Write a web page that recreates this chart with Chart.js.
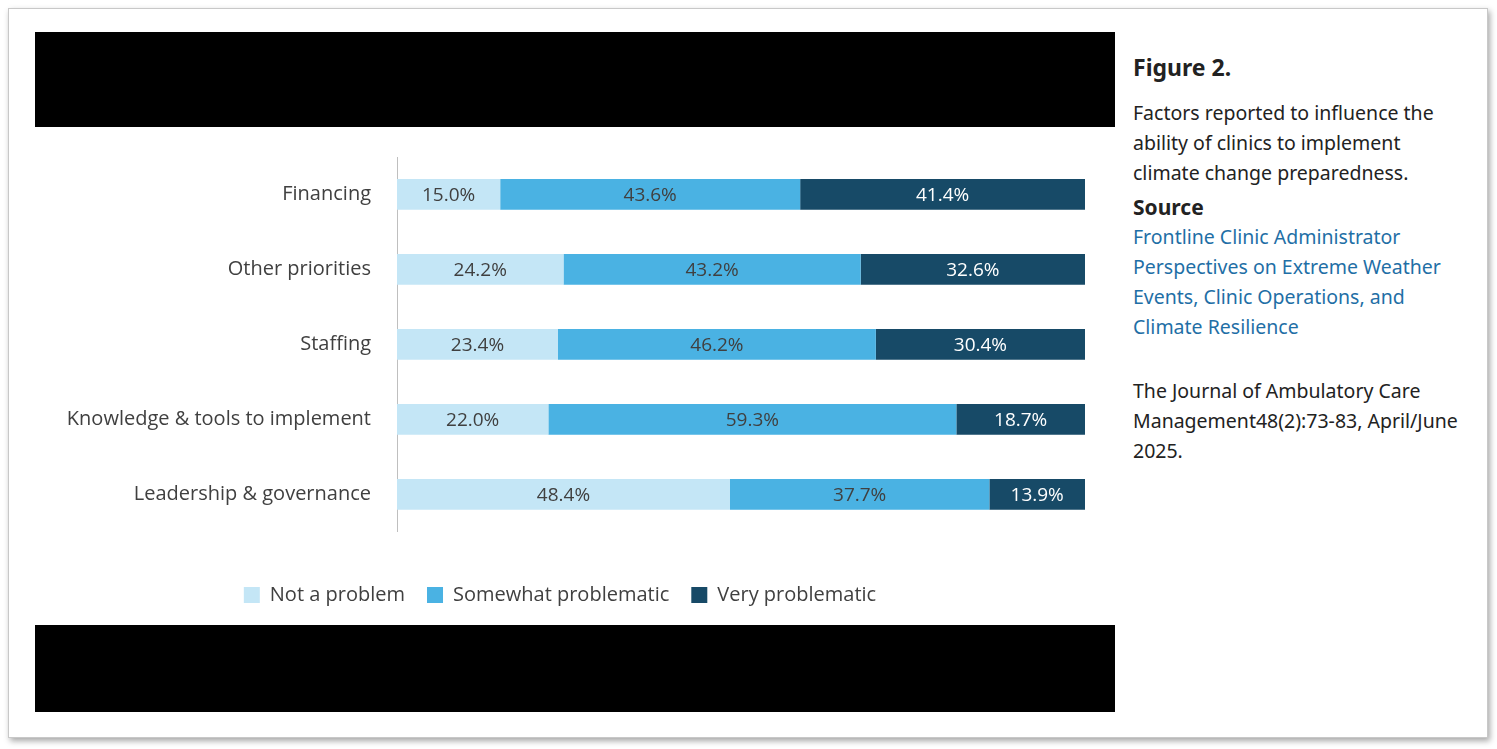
<!DOCTYPE html>
<html>
<head>
<meta charset="utf-8">
<script src="https://cdn.jsdelivr.net/npm/chart.js@4"></script>
<style>
  body { margin: 0; background: #fff; width: 1497px; height: 749px; position: relative; font-family: "Noto Sans", sans-serif; }
  #card { position: absolute; left: 8px; top: 8px; width: 1478px; height: 728px; border: 1px solid #c8c8c8; box-shadow: 2px 3px 6px rgba(0,0,0,0.35); background: #fff; }
  #black { position: absolute; left: 35px; top: 32px; width: 1080px; height: 680px; background: #000; }
  #chartBox { position: absolute; left: 35px; top: 127px; width: 1080px; height: 498px; background: #fff; }
  #side { position: absolute; left: 1133px; top: 52px; width: 325px; color: #222; font-size: 19.5px; line-height: 30px; }
  #side h2 { margin: 0 0 16px 0; font-size: 23px; font-weight: bold; }
  #side h3 { margin: 4px 0 0 0; font-size: 21px; font-weight: bold; }
  #side .link { color: #1f6fa6; }
  #side p { margin: 0; }
</style>
</head>
<body>
<div id="card"></div>
<div id="black"></div>
<div id="chartBox"><canvas id="c"></canvas></div>
<div id="side">
  <h2>Figure 2.</h2>
  <p>Factors reported to influence the ability of clinics to implement climate change preparedness.</p>
  <h3>Source</h3>
  <p class="link">Frontline Clinic Administrator Perspectives on Extreme Weather Events, Clinic Operations, and Climate Resilience</p>
  <p style="margin-top:34px">The Journal of Ambulatory Care Management48(2):73-83, April/June 2025.</p>
</div>
<script>
const categories = ['Financing', 'Other priorities', 'Staffing', 'Knowledge & tools to implement', 'Leadership & governance'];
const notProblem = [15.0, 24.2, 23.4, 22.0, 48.4];
const somewhat = [43.6, 43.2, 46.2, 59.3, 37.7];
const very = [41.4, 32.6, 30.4, 18.7, 13.9];

const barLabels = {
  id: 'barLabels',
  afterDatasetsDraw(chart) {
    const ctx = chart.ctx;
    ctx.save();
    ctx.font = '19px "Open Sans", sans-serif';
    ctx.textAlign = 'center';
    ctx.textBaseline = 'middle';
    chart.data.datasets.forEach((ds, i) => {
      chart.getDatasetMeta(i).data.forEach((bar, j) => {
        const mid = (bar.x + bar.base) / 2;
        ctx.fillStyle = i === 2 ? '#ffffff' : '#404040';
        ctx.fillText(ds.data[j].toFixed(1) + '%', mid, bar.y + 1);
      });
    });
    ctx.restore();
  }
};

new Chart(document.getElementById('c'), {
  type: 'bar',
  data: {
    labels: categories,
    datasets: [
      { label: 'Not a problem', data: notProblem, backgroundColor: '#c4e6f6' },
      { label: 'Somewhat problematic', data: somewhat, backgroundColor: '#4ab2e3' },
      { label: 'Very problematic', data: very, backgroundColor: '#174a67' }
    ]
  },
  options: {
    indexAxis: 'y',
    responsive: true,
    maintainAspectRatio: false,
    animation: false,
    categoryPercentage: 0.41,
    barPercentage: 1,
    layout: { padding: { top: 26, right: 30, bottom: 10, left: 0 } },
    scales: {
      x: { stacked: true, min: 0, max: 100, display: false },
      y: {
        stacked: true,
        grid: { display: false },
        border: { color: '#bfbfbf', width: 1 },
        ticks: { color: '#404040', font: { family: '"Open Sans", sans-serif', size: 20 }, padding: 18 },
        afterFit(axis) { axis.width = 362; }
      }
    },
    plugins: {
      legend: {
        position: 'bottom',
        title: { display: true, text: ' ', font: { size: 1 }, padding: { top: 0, bottom: 30 } },
        labels: { color: '#404040', font: { family: '"Open Sans", sans-serif', size: 20 }, boxWidth: 16, boxHeight: 16, padding: 22 }
      },
      tooltip: { enabled: false }
    }
  },
  plugins: [barLabels]
});
</script>
</body>
</html>
